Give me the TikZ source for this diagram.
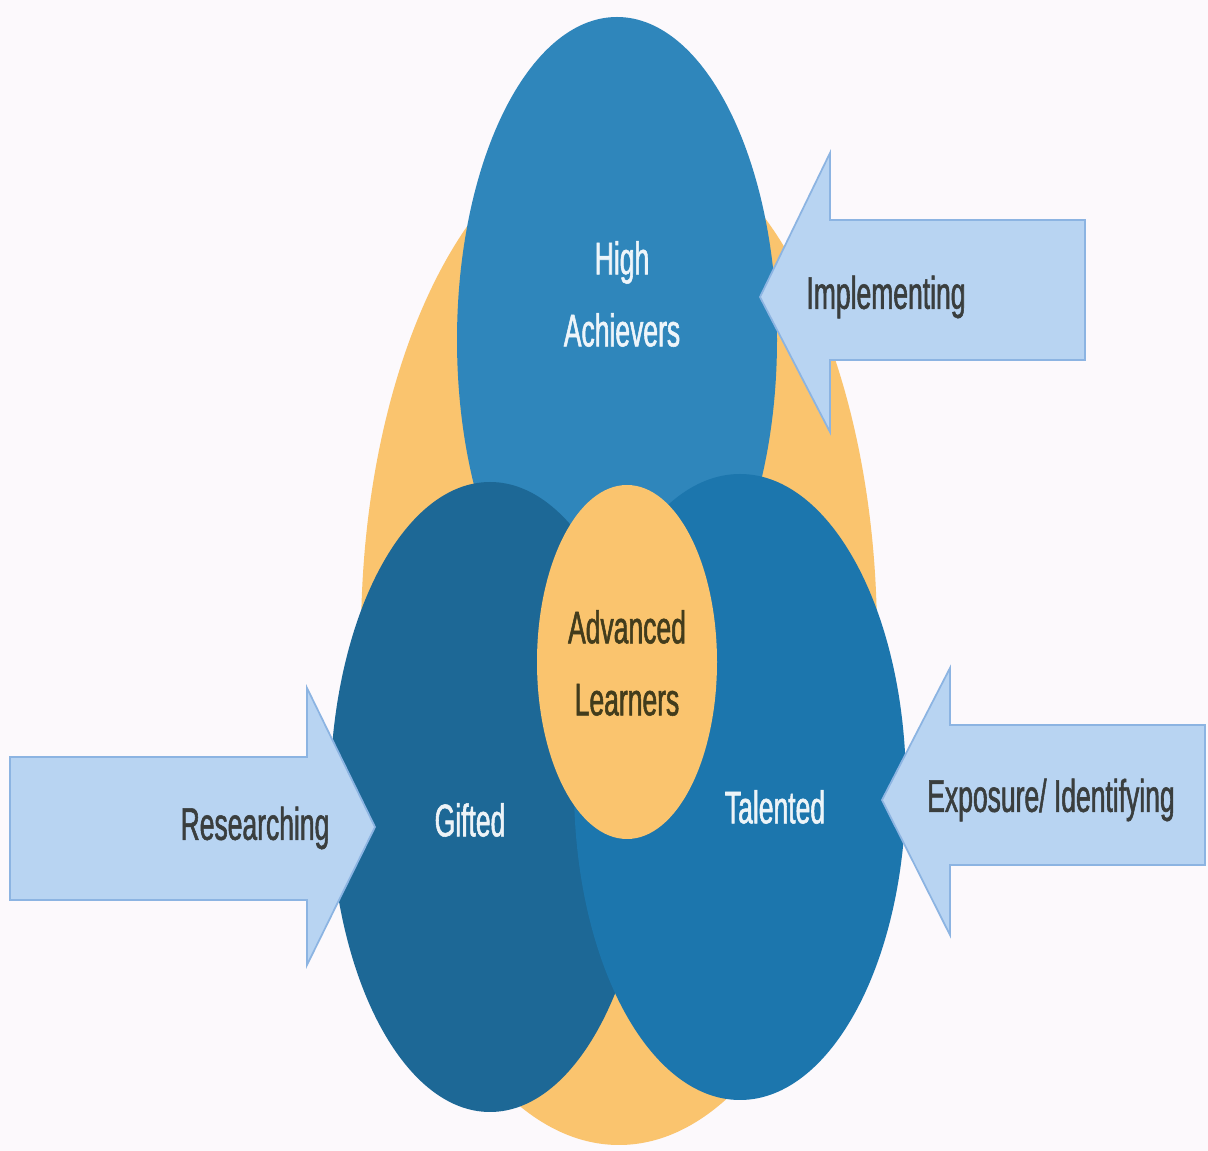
\documentclass[tikz,border=0pt]{standalone}
\usepackage{fontspec}
\newfontfamily\diagfont{Liberation Sans}[FakeStretch=0.58,FakeBold=1.2]

\definecolor{mybg}{RGB}{252,249,252}
\definecolor{myorange}{RGB}{250,196,110}
\definecolor{mytopblue}{RGB}{47,134,187}
\definecolor{mygifted}{RGB}{29,104,150}
\definecolor{mytalent}{RGB}{28,118,173}
\definecolor{myarrow}{RGB}{184,212,242}
\definecolor{myarrowedge}{RGB}{140,180,226}
\definecolor{mydark}{RGB}{58,62,62}
\definecolor{myolive}{RGB}{66,60,28}

\begin{document}
\begin{tikzpicture}[
    x=0.02cm, y=-0.02cm,
    blob/.style={fill=#1},
    arrowbox/.style={fill=myarrow,draw=myarrowedge,line width=1pt},
    lbl/.style={font=\diagfont\fontsize{26}{41}\selectfont,align=center,text=#1}
]

% page
\fill[mybg] (0,0) rectangle (1208,1151);
\useasboundingbox (0,0) rectangle (1208,1151);

% egg behind everything
\fill[blob=myorange] (619,637) ellipse [x radius=258, y radius=508];

% the three groups
\fill[blob=mytopblue] (617,340) ellipse [x radius=160, y radius=323];
\fill[blob=mygifted] (490,797) ellipse [x radius=160, y radius=315];
\fill[blob=mytalent] (740,787) ellipse [x radius=166, y radius=313];

% centre
\fill[blob=myorange] (627,662) ellipse [x radius=90, y radius=177];

% arrows
\draw[arrowbox] (760,297) -- (830,153) -- (830,220) -- (1085,220)
    -- (1085,360) -- (830,360) -- (830,432) -- cycle;
\draw[arrowbox] (375,827) -- (307,688) -- (307,757) -- (10,757)
    -- (10,900) -- (307,900) -- (307,965) -- cycle;
\draw[arrowbox] (882,800) -- (950,668) -- (950,725) -- (1205,725)
    -- (1205,865) -- (950,865) -- (950,935) -- cycle;

% labels
\node[lbl=white!92!mytopblue] (high) at (622,294) {High\\Achievers};
\node[lbl=white!92!mygifted] (gifted) at (470,820) {Gifted};
\node[lbl=white!92!mytalent] (talented) at (775,807) {Talented};
\node[lbl=myolive] (advanced) at (627,663) {Advanced\\Learners};
\node[lbl=mydark] (implement) at (886,297) {Implementing};
\node[lbl=mydark] (research) at (255,828) {Researching};
\node[lbl=mydark] (exposure) at (1051,800) {Exposure/ Identifying};

\end{tikzpicture}
\end{document}
